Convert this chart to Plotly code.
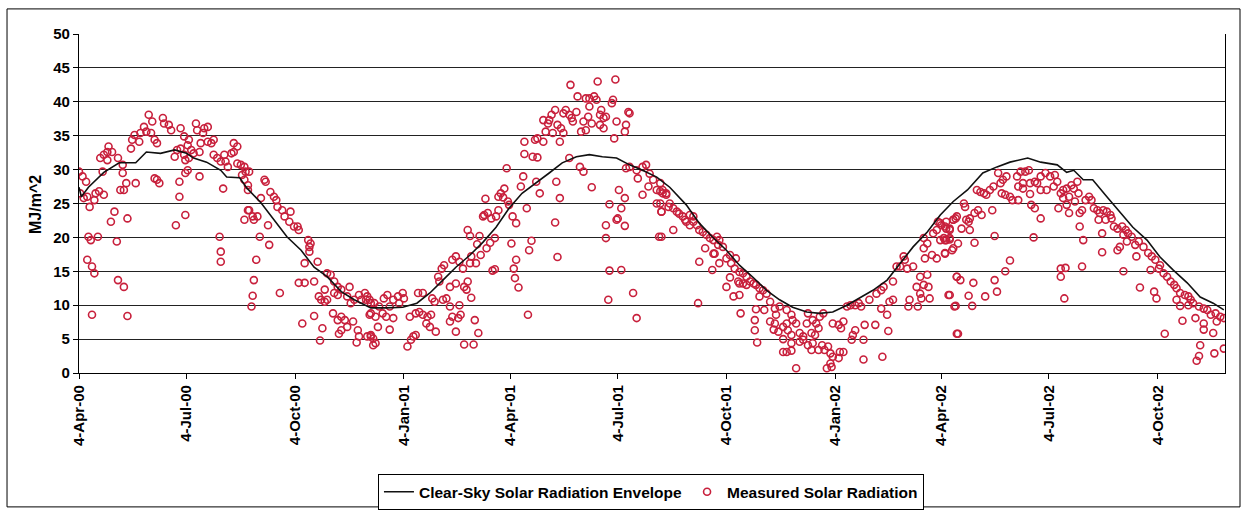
import pandas as pd
import plotly.graph_objects as go

START = pd.Timestamp("2000-04-04")
END = pd.Timestamp("2002-11-30")

tick_dates = ["2000-04-04", "2000-07-04", "2000-10-04", "2001-01-04", "2001-04-04", "2001-07-04",
              "2001-10-04", "2002-01-04", "2002-04-04", "2002-07-04", "2002-10-04"]
tick_labels = ["4-Apr-00", "4-Jul-00", "4-Oct-00", "4-Jan-01", "4-Apr-01", "4-Jul-01",
               "4-Oct-01", "4-Jan-02", "4-Apr-02", "4-Jul-02", "4-Oct-02"]

# Clear-sky envelope (days since 4-Apr-2000, MJ/m^2)
env_day = [0, 2, 8, 21, 34, 48, 57, 69, 81, 91,
           97, 108, 120, 125, 136, 142, 154, 165, 176, 188,
           199, 210, 222, 233, 247, 260, 274, 286, 297, 308,
           319, 331, 342, 353, 364, 375, 387, 398, 409, 421,
           432, 443, 455, 466, 477, 489, 500, 514, 525, 536,
           548, 559, 570, 582, 593, 604, 616, 627, 638, 650,
           661, 672, 684, 695, 706, 718, 729, 740, 752, 765,
           777, 788, 803, 814, 828, 836, 842, 850, 858, 870,
           881, 892, 904, 915, 926, 938, 949, 960, 969]
env_val = [27.4, 26.0, 27.4, 29.6, 31.0, 31.0, 32.6, 32.4, 32.9, 32.4,
           31.7, 31.1, 29.9, 28.9, 28.8, 27.3, 25.1, 22.6, 20.1, 18.1,
           15.6, 14.2, 12.0, 10.8, 9.6, 9.6, 9.7, 10.3, 11.8, 13.7,
           15.6, 17.4, 19.3, 21.5, 24.3, 26.5, 28.0, 29.5, 31.0, 31.9,
           32.2, 31.9, 31.7, 30.7, 29.9, 28.9, 27.4, 24.8, 22.1, 20.1,
           18.1, 15.9, 14.2, 12.2, 10.8, 9.7, 9.0, 8.8, 9.0, 10.0,
           11.1, 12.2, 13.7, 16.2, 18.6, 20.8, 23.3, 25.3, 27.0, 29.5,
           30.4, 31.1, 31.7, 31.1, 30.7, 29.6, 29.9, 28.5, 28.5, 26.0,
           23.7, 21.5, 19.6, 17.1, 15.2, 13.3, 11.2, 10.3, 9.3]

# Measured solar radiation, season 2000 (Apr-Dec)
meas_a_day = [0, 3, 6, 1, 7, 4, 13, 17, 21, 14,
              9, 20, 24, 21, 18, 25, 28, 24, 33, 37,
              37, 40, 35, 38, 30, 27, 41, 48, 64, 68,
              66, 85, 81, 92, 90, 102, 85, 90, 82, 122,
              8, 10, 16, 32, 7, 11, 13, 33, 38, 11,
              41, 119, 120, 120, 140, 144, 148, 151, 153, 161,
              150, 148, 147, 146, 160, 143, 147,
              59, 62, 71, 76, 72, 78, 55, 57, 52, 47,
              45, 44, 51, 61, 64, 66, 86, 89, 93, 92,
              99, 100, 105, 109, 106, 103, 109, 112, 114, 95,
              97, 102, 90, 86, 83, 89, 93, 114, 117, 120,
              124, 123, 129, 131, 134, 131, 126, 134, 137, 140,
              141, 144, 138, 140, 157, 158, 143, 143, 154, 162,
              165, 167, 168, 172, 174, 179, 178, 182, 185, 186,
              191, 194, 195, 196, 195, 199, 186, 191, 170, 189,
              199, 206, 202, 203, 205, 208, 210, 208, 210, 213,
              216, 219, 222, 216, 219, 229, 227, 230, 233, 237,
              242, 243, 244, 246, 247, 215, 219, 222, 225, 227,
              222, 220, 232, 236, 237, 235, 204, 244, 247, 249,
              239]
meas_a_val = [29.7, 29.0, 28.2, 26.5, 26.0, 25.8, 25.5, 26.8, 26.3, 26.5,
              24.5, 29.7, 32.6, 32.2, 31.7, 33.4, 32.6, 31.4, 31.7, 30.7,
              29.5, 28.0, 27.0, 27.0, 23.8, 22.3, 22.8, 28.0, 28.7, 28.0,
              28.5, 28.2, 31.9, 29.9, 29.5, 29.0, 26.0, 23.3, 21.8, 27.2,
              20.1, 19.6, 20.1, 19.4, 16.7, 15.7, 14.7, 13.7, 12.7, 8.6,
              8.4, 20.1, 17.9, 16.4, 22.6, 24.0, 22.6, 23.1, 20.1, 18.9,
              16.7, 13.7, 11.4, 9.8, 21.8, 24.0, 23.1,
              38.1, 37.1, 37.6, 36.6, 36.8, 35.8, 36.3, 35.6, 35.4, 35.1,
              34.4, 33.1, 34.1, 35.4, 34.4, 33.9, 36.1, 34.9, 34.4, 33.6,
              36.8, 35.8, 35.4, 36.3, 36.1, 33.9, 34.1, 33.9, 34.4, 32.9,
              32.4, 32.6, 31.4, 33.1, 32.9, 32.2, 31.7, 32.2, 31.7, 31.2,
              31.2, 32.2, 32.4, 33.9, 33.4, 32.6, 30.4, 30.9, 30.7, 30.4,
              29.7, 29.7, 29.2, 28.5, 28.5, 28.2, 27.7, 27.0, 25.8, 26.7,
              26.0, 25.5, 24.5, 24.0, 23.1, 23.8, 22.3, 21.6, 21.6, 21.1,
              16.2, 19.6, 18.6, 19.1, 17.9, 13.5, 13.3, 13.3, 11.8, 7.3,
              8.4, 6.6, 16.4, 11.3, 10.8, 10.5, 10.8, 12.3, 14.7, 14.5,
              13.5, 12.7, 12.3, 11.8, 11.5, 12.7, 11.3, 10.3, 10.8, 11.5,
              11.8, 10.8, 11.3, 8.6, 10.3, 8.8, 7.8, 8.3, 7.8, 6.8,
              6.3, 5.8, 7.6, 6.3, 5.4, 4.5, 4.8, 5.4, 5.4, 4.1,
              10.8]

# Measured, Dec 2000 - Aug 2001
meas_b_day = [246, 250, 254, 258, 261, 266, 270, 274, 275, 271,
              263, 257, 251, 247, 260, 266, 253, 263, 247, 249,
              251, 278, 281, 283, 285, 280, 285, 288, 291, 295,
              298, 294, 297, 302, 287, 291, 299, 301, 311, 314,
              308, 314, 316, 321, 323, 319, 322, 328, 329, 332,
              335, 338, 326, 334, 314, 319, 326, 305, 304, 307,
              309, 316, 319, 322, 325, 331, 336, 332, 340, 345,
              348, 337, 352, 339, 329, 331, 352, 350, 343, 346,
              342, 349, 355, 353, 344, 355, 357, 360, 359, 363,
              364, 367, 370, 362, 376, 374, 387, 390, 379, 366,
              381, 383, 370, 368, 369, 372, 380, 377, 377, 384,
              388, 386, 393, 388, 395, 401, 405, 397, 400, 398,
              393, 403, 410, 412, 415, 418, 417, 408, 410, 407,
              421, 422, 429, 432, 436, 438, 432, 431, 427, 425,
              429, 434, 441, 444, 446, 441, 444, 442, 452, 451,
              455, 463, 462, 453, 466, 465, 416, 439, 454, 415,
              424, 427, 404, 407, 434, 449, 457, 462, 459, 456,
              455, 462, 446, 446, 403, 405, 449, 459, 448, 469,
              472, 477, 463, 466, 472, 477, 480, 483, 473, 482,
              486, 489, 492, 494, 497, 489, 493, 491, 499]
meas_b_val = [10.8, 10.3, 9.8, 11.0, 11.5, 10.8, 11.3, 11.8, 11.0, 10.3,
              9.8, 8.8, 8.3, 8.8, 8.3, 8.1, 6.8, 6.4, 5.6, 5.1,
              4.4, 3.9, 4.9, 5.4, 5.6, 8.3, 8.8, 9.0, 8.6, 8.3,
              8.6, 7.3, 6.8, 6.1, 11.8, 11.8, 11.0, 10.5, 11.0, 9.8,
              10.8, 7.6, 8.3, 8.1, 8.6, 6.1, 10.0, 12.3, 13.5, 11.1,
              7.8, 5.9, 4.2, 4.2, 12.7, 13.2, 12.7, 13.5, 14.2, 15.4,
              15.9, 16.7, 17.2, 16.4, 15.4, 16.2, 16.2, 17.2, 17.4, 18.4,
              19.2, 19.0, 19.9, 20.2, 21.1, 20.2, 15.3, 15.1, 23.3, 23.6,
              23.1, 22.8, 24.0, 23.1, 25.7, 26.0, 26.5, 27.2, 25.9, 25.3,
              24.8, 23.1, 22.1, 30.2, 29.0, 27.5, 28.2, 26.5, 24.3, 19.1,
              18.1, 19.5, 16.7, 15.4, 14.0, 12.6, 8.6, 34.1, 32.3, 31.9,
              31.8, 34.4, 34.1, 34.6, 35.6, 35.4, 36.6, 36.8, 38.1, 37.3,
              37.3, 38.8, 38.3, 38.8, 38.1, 37.1, 37.6, 36.1, 35.4, 34.1,
              38.5, 40.8, 40.5, 40.5, 40.8, 40.3, 39.3, 37.8, 37.1, 35.6,
              35.8, 36.8, 38.1, 37.6, 37.8, 36.6, 36.1, 38.8, 40.3, 39.8,
              37.1, 36.6, 35.6, 34.6, 38.3, 38.5, 42.5, 43.0, 43.3, 31.7,
              30.4, 29.7, 28.2, 25.8, 27.4, 24.9, 27.0, 25.8, 24.3, 22.8,
              22.6, 21.7, 21.8, 19.9, 22.2, 17.1, 15.1, 15.2, 10.8, 11.8,
              8.1, 26.3, 30.2, 30.4, 29.9, 30.4, 30.7, 29.4, 28.7, 27.5,
              28.5, 27.0, 26.8, 26.5, 26.3, 25.0, 23.8, 20.1, 24.5]

# Measured, Aug 2001 - Apr 2002
meas_c_day = [492, 494, 497, 492, 500, 503, 493, 506, 508, 511,
              513, 517, 520, 514, 517, 520, 523, 525, 528, 531,
              534, 537, 540, 542, 545, 541, 537, 548, 551, 556,
              552, 555, 559, 562, 565, 568, 571, 573, 576, 579,
              582, 559, 562, 565, 558, 551, 503, 493, 530, 525,
              536, 538, 542, 548, 554, 559, 524, 560, 576, 573,
              580, 585, 589, 593, 599, 603, 590, 585, 589, 588,
              592, 596, 599, 604, 607, 600, 603, 610, 613, 616,
              621, 624, 620, 623, 626, 627, 630, 617, 572, 572,
              574, 596, 603, 610, 613, 617, 621, 626, 629, 631,
              634, 636, 638, 644, 647, 643, 636, 633, 637, 596,
              599, 603, 607, 620, 638, 643, 645, 647, 650, 653,
              657, 660, 662, 657, 655, 654, 664, 665, 674, 685,
              684, 679, 686, 689, 669, 675, 679, 681, 689, 692,
              695, 701, 706, 712, 718, 709, 715, 719, 712, 713,
              720, 703, 702, 710, 664, 680, 698, 699, 715, 718,
              723, 726, 727, 730, 733, 737, 740, 743, 737, 740,
              715, 716, 722, 726, 733, 734, 736, 741, 743, 743]
meas_c_val = [28.0, 27.0, 26.5, 25.0, 25.0, 24.3, 23.8, 23.8, 23.5, 23.1,
              22.6, 23.3, 23.1, 22.3, 21.8, 22.3, 21.8, 21.1, 20.8, 20.4,
              19.9, 19.6, 20.1, 19.6, 18.6, 18.9, 17.6, 16.9, 17.4, 16.9,
              16.2, 15.4, 14.9, 14.7, 14.2, 13.5, 13.2, 13.0, 12.5, 12.2,
              11.7, 13.2, 13.2, 13.0, 13.5, 14.1, 21.1, 20.1, 18.4, 16.4,
              15.2, 17.6, 16.2, 12.7, 11.3, 11.5, 10.3, 8.8, 11.3, 9.4,
              9.3, 10.5, 9.5, 9.8, 9.3, 8.6, 8.6, 7.6, 7.3, 6.4,
              6.1, 6.8, 7.3, 7.8, 7.3, 6.3, 5.6, 5.9, 5.4, 7.3,
              7.8, 7.3, 5.9, 5.6, 6.6, 8.3, 8.8, 8.8, 7.8, 6.3,
              4.5, 5.0, 4.4, 4.6, 4.9, 4.1, 4.4, 3.4, 4.1, 3.4,
              3.9, 2.9, 2.4, 3.1, 3.1, 2.2, 1.4, 0.7, 0.9, 3.1,
              3.1, 3.3, 0.7, 3.4, 7.3, 7.1, 6.6, 7.6, 9.8, 10.0,
              10.0, 10.3, 9.8, 6.3, 5.6, 4.9, 4.9, 7.1, 7.1, 6.2,
              8.6, 9.5, 10.5, 10.8, 10.8, 11.7, 12.2, 12.7, 13.5, 15.7,
              15.7, 15.4, 15.7, 14.2, 14.5, 12.7, 13.0, 12.7, 11.7, 11.0,
              11.0, 10.8, 9.8, 9.8, 2.0, 2.4, 17.2, 16.7, 19.9, 19.1,
              20.6, 21.1, 22.3, 21.8, 19.6, 21.3, 22.6, 23.1, 19.9, 18.4,
              18.4, 16.9, 17.4, 16.9, 17.6, 21.3, 11.5, 9.8, 5.8, 14.2]

# Measured, Apr 2002 - Nov 2002
meas_d_day = [729, 733, 737, 734, 740, 742, 732, 729, 734, 737,
              733, 739, 744, 747, 754, 751, 754, 753, 758, 761,
              764, 749, 750, 758, 773, 775, 743, 746, 757, 737,
              742, 753, 756, 767, 777, 775, 784, 788, 744, 760,
              763, 766, 768, 771, 774, 778, 780, 782, 785, 781,
              784, 788, 790, 795, 797, 801, 804, 794, 799, 805,
              809, 814, 818, 822, 826, 828, 825, 819, 814, 811,
              806, 809, 814, 805, 808, 795, 799, 831, 833, 836,
              840, 845, 842, 846, 838, 833, 843, 836, 838, 829,
              847, 849, 847, 850, 831, 835, 831, 834, 849, 852,
              855, 857, 859, 862, 864, 867, 870, 873, 874, 863,
              869, 866, 876, 879, 883, 886, 888, 891, 884, 887,
              881, 879, 894, 895, 897, 901, 905, 908, 911, 915,
              914, 918, 921, 924, 927, 929, 932, 936, 939, 941,
              943, 948, 952, 955, 958, 962, 966, 969, 866, 884,
              898, 910, 912, 907, 929, 932, 934, 939, 945, 952,
              952, 960, 963, 919, 949, 948, 946, 961, 969]
meas_d_val = [22.1, 21.6, 21.1, 22.3, 22.6, 22.8, 19.9, 19.6, 19.6, 19.7,
              17.7, 18.1, 19.1, 21.3, 21.1, 22.6, 22.8, 22.3, 23.6, 24.0,
              23.3, 25.0, 24.5, 19.2, 24.0, 20.2, 14.2, 13.7, 13.3, 11.5,
              9.9, 11.4, 9.9, 11.3, 12.0, 13.7, 15.0, 16.6, 5.8, 27.0,
              26.7, 26.5, 26.3, 27.0, 27.5, 29.5, 28.0, 28.5, 29.0, 26.5,
              26.3, 26.0, 25.5, 25.5, 29.7, 29.7, 29.9, 29.0, 28.0, 28.0,
              28.2, 29.0, 29.5, 29.0, 29.2, 28.2, 27.5, 27.0, 27.0, 28.0,
              24.8, 24.3, 22.8, 26.4, 20.0, 27.5, 27.2, 26.5, 27.0, 27.2,
              27.7, 28.2, 27.2, 26.5, 26.0, 25.8, 25.3, 24.8, 23.6, 24.3,
              23.6, 24.0, 21.6, 19.6, 15.4, 15.5, 14.2, 11.0, 15.7, 25.5,
              26.0, 25.5, 24.3, 24.0, 23.6, 24.0, 23.8, 23.3, 22.8, 22.6,
              22.6, 20.6, 21.6, 21.3, 21.6, 21.1, 20.6, 20.1, 20.4, 19.4,
              18.6, 18.1, 18.9, 17.2, 19.4, 18.6, 17.7, 17.2, 16.7, 15.9,
              15.4, 14.7, 14.2, 13.5, 13.0, 12.5, 11.8, 11.5, 11.3, 10.8,
              10.3, 9.8, 9.5, 9.3, 8.6, 8.8, 8.3, 8.1, 17.8, 15.0,
              12.6, 12.0, 11.0, 15.2, 10.8, 9.9, 7.7, 10.0, 8.1, 7.3,
              6.4, 5.9, 7.6, 5.8, 4.1, 2.5, 1.8, 2.9, 3.6]

for d, v in [(meas_a_day, meas_a_val), (meas_b_day, meas_b_val),
             (meas_c_day, meas_c_val), (meas_d_day, meas_d_val), (env_day, env_val)]:
    assert len(d) == len(v), (len(d), len(v))


def to_dates(days):
    return [START + pd.Timedelta(days=int(x)) for x in days]


meas_days = meas_a_day + meas_b_day + meas_c_day + meas_d_day
meas_vals = meas_a_val + meas_b_val + meas_c_val + meas_d_val

FONT = "Liberation Sans, Arial, sans-serif"
RED = "#C8203C"

fig = go.Figure()
fig.add_trace(go.Scatter(
    x=to_dates(meas_days), y=meas_vals, mode="markers",
    name="Measured Solar Radiation", legendrank=2,
    marker=dict(symbol="circle-open", size=7, color=RED, line=dict(width=1.6, color=RED)),
))
fig.add_trace(go.Scatter(
    x=to_dates(env_day), y=env_val, mode="lines",
    name="Clear-Sky Solar Radiation Envelope", legendrank=1,
    line=dict(color="#111111", width=1.6),
))

fig.update_layout(
    width=1248, height=514,
    margin=dict(l=79, r=23, t=34, b=141, autoexpand=False),
    paper_bgcolor="white", plot_bgcolor="white",
    font=dict(family=FONT, color="black"),
    showlegend=True,
    legend=dict(
        orientation="h", xref="container", yref="container",
        x=0.5216, xanchor="center", y=0.0775, yanchor="top",
        bordercolor="black", borderwidth=1, bgcolor="white",
        font=dict(family=FONT, size=15.5, weight="bold", color="black"),
        itemwidth=30, tracegroupgap=0,
    ),
    xaxis=dict(
        type="date",
        range=[START, END],
        tickmode="array", tickvals=tick_dates, ticktext=tick_labels,
        tickangle=-90, automargin=False,
        tickfont=dict(family=FONT, size=15, weight="bold", color="black"),
        showgrid=False, zeroline=False,
        showline=True, linecolor="black", linewidth=1.3,
        ticks="outside", ticklen=5, tickcolor="black",
    ),
    yaxis=dict(
        range=[0, 50], dtick=5, tick0=0, automargin=False,
        tickfont=dict(family=FONT, size=15, weight="bold", color="black"),
        showgrid=True, gridcolor="#222222", gridwidth=1.2,
        zeroline=False,
        showline=True, linecolor="black", linewidth=1.3, mirror=True,
        ticks="outside", ticklen=5, tickcolor="black",
    ),
    annotations=[dict(
        text="MJ/m^2", textangle=-90, xref="paper", yref="paper",
        x=-0.038, y=0.497, xanchor="center", yanchor="middle", showarrow=False,
        font=dict(family=FONT, size=16, weight="bold", color="black"),
    )],
    shapes=[dict(
        type="rect", xref="paper", yref="paper",
        x0=-0.0628, x1=1.0131, y0=-0.395, y1=1.074,
        line=dict(color="black", width=1), layer="below",
    )],
)

fig.write_html(
    "out.html",
    default_width="1248px", default_height="514px",
    config={"responsive": False, "displayModeBar": False},
    post_script="document.body.style.margin='0px';document.body.style.overflow='hidden';",
)
